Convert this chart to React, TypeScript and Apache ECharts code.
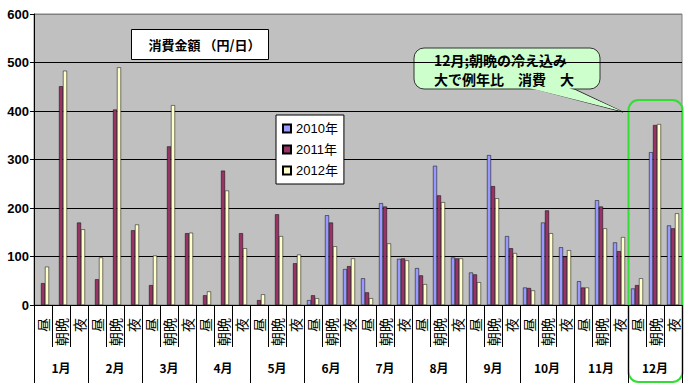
import React, { useEffect, useRef } from "react";
import * as echarts from "echarts";

const months = ["1月", "2月", "3月", "4月", "5月", "6月", "7月", "8月", "9月", "10月", "11月", "12月"];
const parts = ["昼", "朝晩", "夜"];
const categories = months.flatMap(() => parts);
const yTicks = [0, 100, 200, 300, 400, 500, 600];

const s2010 = [
  null, null, null, null, null, null, null, null, null, null, null, null, null, null, null,
  10, 185, 74, 55, 210, 95, 76, 287, 98, 67, 309, 142, 36, 170, 119, 49, 216, 129, 34, 315, 164,
];
const s2011 = [
  45, 451, 170, 53, 403, 154, 41, 327, 148, 20, 277, 148, 10, 187, 86,
  20, 170, 80, 26, 203, 96, 61, 226, 96, 63, 245, 117, 35, 195, 100, 36, 203, 111, 41, 371, 158,
];
const s2012 = [
  79, 483, 156, 98, 490, 166, 102, 412, 149, 28, 236, 117, 22, 142, 104,
  14, 121, 96, 14, 127, 92, 43, 212, 96, 47, 220, 107, 30, 148, 113, 36, 158, 140, 55, 373, 189,
];
const seriesNames = ["2010年", "2011年", "2012年"];
const seriesColors = ["#9999FF", "#993366", "#FFFFCC"];

const FONT = 'Arial, "Liberation Sans", "Noto Sans CJK JP", sans-serif';
const JFONT = '"Noto Sans CJK JP", sans-serif';

export default function App() {
  const ref = useRef<HTMLDivElement>(null);
  useEffect(() => {
    document.body.style.margin = "0";
    const chart = echarts.init(ref.current!, null, { renderer: "svg" });
    const dataSets = [s2010, s2011, s2012];
    chart.setOption({
      animation: false,
      backgroundColor: "#ffffff",
      textStyle: { fontFamily: FONT },
      grid: {
        left: 34,
        right: 8,
        top: 14,
        bottom: 86,
        show: true,
        backgroundColor: "#C0C0C0",
        borderColor: "#808080",
        borderWidth: 1,
      },
      legend: {
        orient: "vertical",
        left: 276,
        top: 115,
        backgroundColor: "#ffffff",
        borderColor: "#000",
        borderWidth: 1,
        borderRadius: 0,
        padding: [7, 6, 7, 6],
        itemWidth: 8,
        itemHeight: 8,
        itemGap: 8,
        icon: "rect",
        textStyle: { fontSize: 13, color: "#000", fontFamily: FONT },
        data: seriesNames,
      },
      xAxis: [
        {
          type: "category",
          data: categories,
          position: "bottom",
          boundaryGap: true,
          axisLine: { show: true, lineStyle: { color: "#000", width: 1 } },
          axisTick: { show: true, interval: 0, length: 42, lineStyle: { color: "#000" } },
          axisLabel: {
            interval: 0,
            rotate: 90,
            margin: 13,
            fontSize: 14,
            color: "#000",
            fontFamily: JFONT,
          },
          splitLine: { show: false },
        },
        {
          type: "category",
          data: months,
          position: "bottom",
          boundaryGap: true,
          axisLine: { show: false },
          axisTick: { show: true, interval: 0, length: 78, lineStyle: { color: "#000" } },
          axisLabel: {
            interval: 0,
            margin: 56,
            fontSize: 12,
            fontWeight: "bold",
            color: "#000",
            fontFamily: JFONT,
          },
          splitLine: { show: false },
        },
      ],
      yAxis: {
        type: "value",
        min: yTicks[0],
        max: yTicks[yTicks.length - 1],
        interval: 100,
        axisLine: { show: true, lineStyle: { color: "#000" } },
        axisTick: { show: true, length: 4, lineStyle: { color: "#000" } },
        axisLabel: {
          margin: 5,
          fontSize: 13,
          fontWeight: "bold",
          color: "#000",
          fontFamily: FONT,
        },
        splitLine: {
          show: true,
          lineStyle: { color: ["#000", "#000", "#000", "#000", "#000", "#000", "#808080"], width: 1 },
        },
      },
      series: dataSets.map((d, i) => ({
        name: seriesNames[i],
        type: "bar",
        xAxisIndex: 0,
        data: d,
        barWidth: 4,
        barGap: "0%",
        itemStyle: { color: seriesColors[i], borderColor: "#000", borderWidth: 0.5 },
      })),
      graphic: [
        {
          type: "group",
          left: 131,
          top: 29,
          children: [
            {
              type: "rect",
              shape: { x: 0, y: 0, width: 137, height: 30 },
              style: { fill: "#fff", stroke: "#000", lineWidth: 1 },
            },
            {
              type: "text",
              x: 17,
              y: 15,
              style: {
                text: "消費金額 （円/日）",
                fontSize: 13,
                fontWeight: "bold",
                fill: "#000",
                fontFamily: JFONT,
                verticalAlign: "middle",
              },
            },
          ],
        },
        {
          type: "polygon",
          shape: { points: [[524, 86], [568, 86], [623, 112]] },
          style: { fill: "#CCFFCC", stroke: "#333", lineWidth: 1 },
        },
        {
          type: "rect",
          shape: { x: 414, y: 48, width: 186, height: 41, r: 10 },
          style: { fill: "#CCFFCC", stroke: "#333", lineWidth: 1 },
        },
        {
          type: "polygon",
          shape: { points: [[525, 87], [567, 87], [621, 111]] },
          style: { fill: "#CCFFCC" },
        },
        {
          type: "text",
          x: 434,
          y: 60,
          style: {
            text: "12月;朝晩の冷え込み",
            fontSize: 14,
            fontWeight: "bold",
            fill: "#000",
            fontFamily: JFONT,
            verticalAlign: "middle",
          },
        },
        {
          type: "text",
          x: 434,
          y: 79,
          style: {
            text: "大で例年比　消費　大",
            fontSize: 14,
            fontWeight: "bold",
            fill: "#000",
            fontFamily: JFONT,
            verticalAlign: "middle",
          },
        },
        {
          type: "rect",
          shape: { x: 628.5, y: 100, width: 54, height: 282, r: 10 },
          style: { fill: "none", stroke: "#33DD33", lineWidth: 2 },
        },
      ],
    });
    return () => chart.dispose();
  }, []);
  return <div ref={ref} style={{ position: "absolute", left: 0, top: 0, width: 690, height: 391 }} />;
}
